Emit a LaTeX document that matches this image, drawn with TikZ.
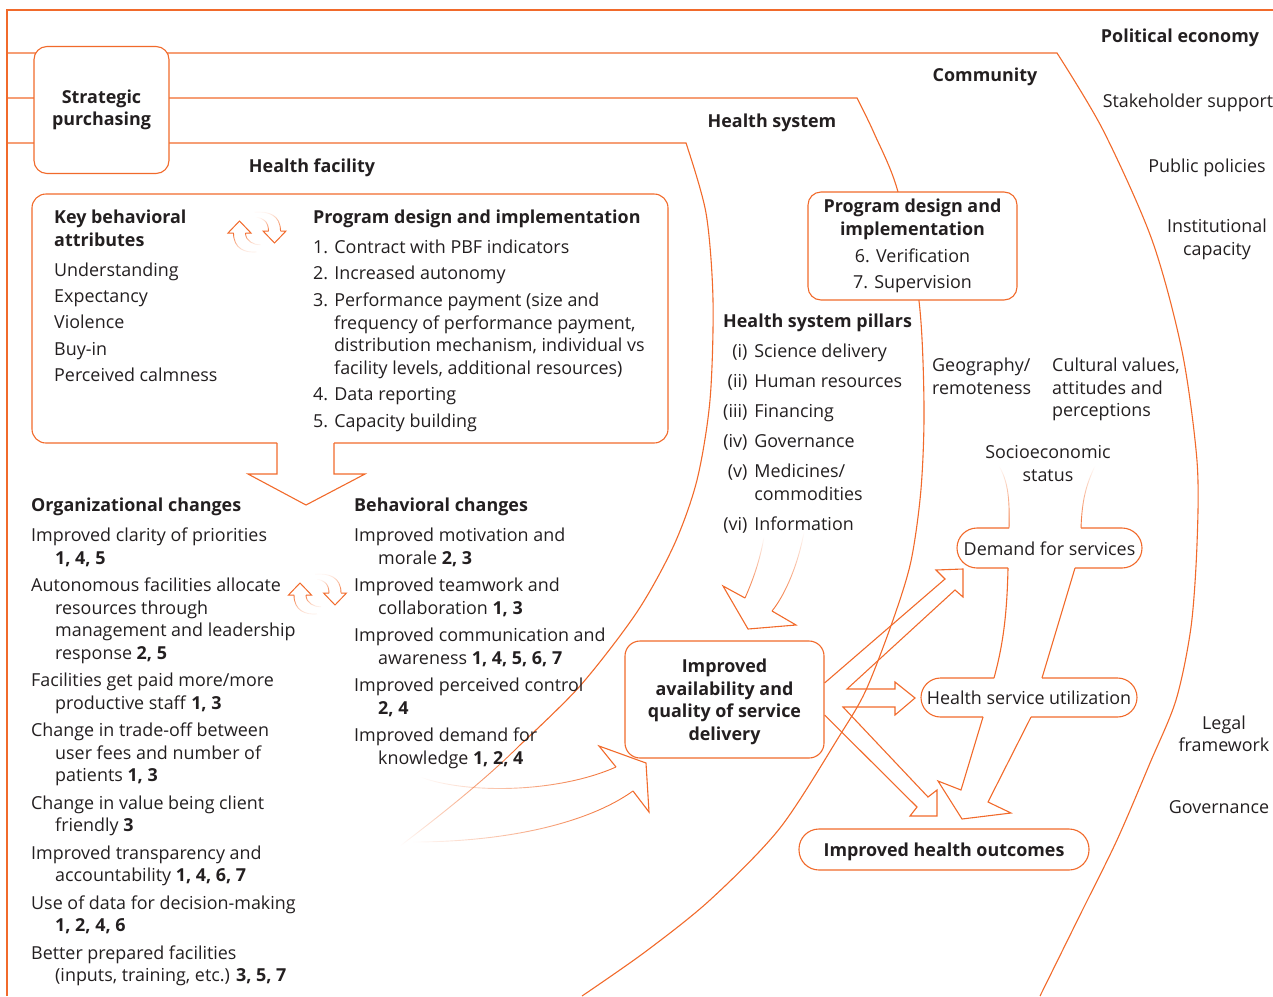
\documentclass[tikz,border=0pt]{standalone}
\usepackage{fontspec}
\setmainfont{Open Sans}
\usetikzlibrary{positioning,fadings}

\definecolor{pbforange}{RGB}{241,106,43}
\definecolor{pbftext}{RGB}{35,31,32}

\newcommand{\ctline}{\\\hspace*{24pt}}

\tikzset{
  frame/.style={draw=pbforange, line width=1.1pt},
  faint/.style={draw=pbforange, line width=0.9pt, path fading=#1},
  txt/.style={inner sep=0pt, text=pbftext, align=left, anchor=north west},
  ctr/.style={inner sep=0pt, text=pbftext, align=center},
  rbox/.style={frame, fill=white, rounded corners=13pt, text=pbftext, align=center, inner sep=0pt},
  pill/.style={rbox, rounded corners=20pt},
  swaparrows/.pic={
    \draw[frame, line width=1pt] (-6,12) -- (-11.5,12) -- (0,0) -- (11.5,12) -- (6,12);
    \draw[faint=south] (-6,12) .. controls (-6,28) and (6,32) .. (17,31);
    \draw[faint=south] (6,12) .. controls (6,20) and (14,24) .. (21,24);
    \draw[frame, line width=1pt] (29,10) -- (23.5,10) -- (35,22) -- (46.5,10) -- (41,10);
    \draw[faint=north] (41,10) .. controls (41,-6) and (29,-10) .. (15,-9);
    \draw[faint=north] (29,10) .. controls (29,0) and (23,-3) .. (17,-4);
  }
}

\begin{document}
\begin{tikzpicture}[x=1pt, y=-1pt, line join=miter,
  execute at begin picture={\fontsize{17.9}{22.5}\selectfont}]
\useasboundingbox (0,0) rectangle (1273,996);

% nested settings
\draw[frame] (7,996) -- (7,10) -- (1273,10);
\draw[frame] (7,53) -- plot[smooth] coordinates {(1057,53) (1103,130) (1152,240) (1182,351) (1197,461) (1197,544) (1191,627) (1176,700) (1150,763) (1117,840) (1080,915) (1040,996)};
\draw[frame] (7,98) -- plot[smooth] coordinates {(857,98) (874,133) (898,192) (919,301) (924,406) (921,489) (911,561) (893,620) (866,690) (840,735) (780,828) (710,900) (645,952) (582,996)};
\draw[frame] (7,143) -- plot[smooth] coordinates {(686,143) (706,213) (713,300) (710,400) (697,480) (674,545) (637,612) (580,686) (520,745)};
\draw[faint=west] (520,745) .. controls (490,775) and (450,808) .. (400,846);

\node[rbox, minimum width=135pt, minimum height=127pt, font=\bfseries] (purch) at (101.5,110) {Strategic\\purchasing};

\node[ctr, font=\bfseries] (polec) at (1180,37.5) {Political economy};
\node[ctr, font=\bfseries] (comm) at (985,76.5) {Community};
\node[ctr, font=\bfseries] (hsys) at (772,122.5) {Health system};
\node[ctr, font=\bfseries] (hfac) at (312,167.5) {Health facility};

\node[ctr] (stake) at (1188,102.5) {Stakeholder support};
\node[ctr] (pubpol) at (1207,167.5) {Public policies};
\node[ctr] (instcap) at (1217,239.5) {Institutional\\capacity};
\node[ctr] (legal) at (1224,734) {Legal\\framework};
\node[ctr] (gov) at (1219,807) {Governance};

% health facility box with its arrow
\draw[frame, rounded corners=14pt] (277,443) -- (32,443) -- (32,194) -- (668,194) -- (668,443) -- (334,443);
\draw[frame] (277,443) -- (277,474) -- (248,474) -- (306,505) -- (365,474) -- (334,474) -- (334,443);

\node[txt] (keyattr) at (54,208) {\strut\textbf{Key behavioral}\\\textbf{attributes}\\[7.5pt]Understanding\\[3.75pt]Expectancy\\[3.75pt]Violence\\[3.75pt]Buy-in\\[3.75pt]Perceived calmness};
\pic at (239.5,221) {swaparrows};

\node[txt] (progdes) at (313,208) {\strut\textbf{Program design and implementation}\\[7.5pt]
1. Contract with PBF indicators\\[3.5pt]
2. Increased autonomy\\[4.5pt]
3. Performance payment (size and\\\hspace*{21pt}frequency of performance payment,\\\hspace*{21pt}distribution mechanism, individual vs\\\hspace*{21pt}facility levels, additional resources)\\[3.5pt]
4. Data reporting\\[4.5pt]
5. Capacity building};

\node[txt] (orgch) at (31,496) {\strut\textbf{Organizational changes}\\[7.5pt]
Improved clarity of priorities\ctline\textbf{1, 4, 5}\\[5pt]
Autonomous facilities allocate\ctline resources through\ctline management and leadership\ctline response \textbf{2, 5}\\[5pt]
Facilities get paid more/more\ctline productive staff \textbf{1, 3}\\[5pt]
Change in trade-off between\ctline user fees and number of\ctline patients \textbf{1, 3}\\[5pt]
Change in value being client\ctline friendly \textbf{3}\\[5pt]
Improved transparency and\ctline accountability \textbf{1, 4, 6, 7}\\[5pt]
Use of data for decision-making\ctline\textbf{1, 2, 4, 6}\\[5pt]
Better prepared facilities\ctline(inputs, training, etc.) \textbf{3, 5, 7}};
\pic at (300,583) {swaparrows};

\node[txt] (behch) at (354,496) {\strut\textbf{Behavioral changes}\\[7.5pt]
Improved motivation and\ctline morale \textbf{2, 3}\\[5pt]
Improved teamwork and\ctline collaboration \textbf{1, 3}\\[5pt]
Improved communication and\ctline awareness \textbf{1, 4, 5, 6, 7}\\[5pt]
Improved perceived control\ctline\textbf{2, 4}\\[5pt]
Improved demand for\ctline knowledge \textbf{1, 2, 4}};

% health system
\node[rbox, minimum width=209pt, minimum height=108pt] (progdes2) at (912.5,246) {\textbf{Program design and}\\\textbf{implementation}\\[4.5pt]6. Verification\\[3.5pt]7. Supervision};

\node[txt] (pillars) at (723,311.5) {\strut\textbf{Health system pillars}\\[7.5pt]
\begin{tabular}[t]{@{}r@{\hspace{7pt}}l@{}}
(i) & Science delivery\\[7.5pt]
(ii) & Human resources\\[8pt]
(iii) & Financing\\[7.5pt]
(iv) & Governance\\[7.5pt]
(v) & Medicines/\\
 & commodities\\[7.5pt]
(vi) & Information
\end{tabular}};

% community
\node[txt] (geo) at (932,356) {\strut Geography/\\remoteness};
\node[txt] (cult) at (1052,356) {\strut Cultural values,\\attitudes and\\perceptions};
\node[ctr] (socio) at (1048,463.5) {Socioeconomic\\status};

\node[rbox, minimum width=199pt, minimum height=117pt, font=\bfseries, rounded corners=15pt] (avail) at (724.5,699.5) {\raisebox{-2.5pt}[\height][\depth]{\begin{tabular}{@{}c@{}}Improved\\availability and\\quality of service\\delivery\end{tabular}}};
\node[ctr] (demand) at (1049.5,549) {Demand for services};
\node[ctr] (util) at (1029,697.5) {Health service utilization};
\node[pill, minimum width=290pt, minimum height=41pt, font=\bfseries] (outcome) at (944,849.5) {\raisebox{-2.5pt}[\height][\depth]{Improved health outcomes}};

% demand and utilization outlines
\draw[faint=north] (1009,528) .. controls (1010,495) and (1007,480) .. (999,466);
\draw[frame, rounded corners=20pt] (1009,528) -- (957,528) -- (957,568) -- (1008,568);
\draw[frame] (1008,568) .. controls (1007,615) and (1003,645) .. (994,678);
\draw[frame, rounded corners=19.5pt] (994,678) -- (921,678) -- (921,717) -- (983,717);
\draw[frame] (983,717) -- (961,790) -- (938,781) -- (962,819) -- (1011,813) -- (988,802) -- (1031,717);
\draw[frame, rounded corners=19.5pt] (1031,717) -- (1137,717) -- (1137,678) -- (1042,678);
\draw[frame] (1042,678) -- (1075,568);
\draw[frame, rounded corners=20pt] (1075,568) -- (1142,568) -- (1142,528) -- (1081,528);
\draw[faint=north] (1081,528) .. controls (1082,500) and (1086,485) .. (1095,466);

% arrows out of the service delivery box
\draw[frame] ([yshift=16.5pt]avail.east) -- (945,579) -- (936,570) -- (963,569) -- (963,597) -- (955,590) -- (847,689) -- (895,689) -- (895,682) -- (915,698) -- (895,715) -- (895,707) -- (843,707) -- (928,797) -- (937,790) -- (937,816) -- (910,816) -- (917,807) -- ([yshift=-15.5pt]avail.east);

% arrow from the pillars
\draw[faint=north] (764,537) .. controls (760,560) and (753,580) .. (745,598);
\draw[frame] (745,598) -- (723,586) -- (748,629) -- (796,625) -- (772,611);
\draw[faint=north] (772,611) .. controls (785,595) and (798,565) .. (804,532);

% arrow from the facility changes
\draw[faint=west] (420,777) .. controls (470,795) and (560,792) .. (616,767);
\draw[frame] (616,767) -- (599,746) -- (646,763) -- (649,812) -- (633,791);
\draw[faint=west] (633,791) .. controls (590,822) and (510,842) .. (412,842);

\end{tikzpicture}
\end{document}
